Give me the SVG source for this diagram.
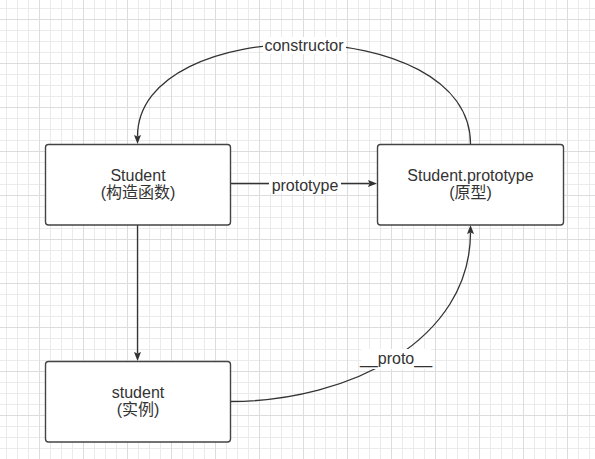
<svg xmlns="http://www.w3.org/2000/svg" width="595" height="459" viewBox="0 0 595 459">
<style>
.node rect{fill:#ffffff;stroke:#444444;stroke-width:1.4}
.t{font-family:"Liberation Sans","Noto Sans CJK SC",sans-serif;font-size:16px;fill:#333333;text-anchor:middle}
.edge{fill:none;stroke:#333333;stroke-width:1.3}
.lbg{fill:#ffffff}
.mn{stroke:#ebebeb;stroke-width:1}
.mj{stroke:#dcdcdc;stroke-width:1}
</style>
<defs>
<pattern id="grid" patternUnits="userSpaceOnUse" x="6" y="8" width="44" height="44">
<path class="mn" d="M0.5,0V44M11.5,0V44M22.5,0V44M0,0.5H44M0,22.5H44M0,33.5H44"/>
<path class="mj" d="M33.5,0V44M0,11.5H44"/>
</pattern>
<marker id="arr" markerUnits="userSpaceOnUse" markerWidth="10" markerHeight="8" refX="1.5" refY="3.5" orient="auto">
<path d="M0,0 L9,3.5 L0,7 L1.5,3.5 z" fill="#333333"/>
</marker>
</defs>
<rect width="595" height="459" fill="#ffffff"/>
<rect width="595" height="459" fill="url(#grid)"/>

<g id="connectors">
<path class="edge" d="M470.5,144 C470.5,12 137.5,12 137.5,136.5" marker-end="url(#arr)"/>
<path class="edge" d="M230.5,183.5 L369.5,183.5" marker-end="url(#arr)"/>
<path class="edge" d="M137.5,225 L137.5,353.5" marker-end="url(#arr)"/>
<path class="edge" d="M230.5,401.5 C350,401.5 470.5,340 470.5,232.5" marker-end="url(#arr)"/>
<rect class="lbg" x="263" y="37" width="83" height="17"/>
<text class="t" x="304" y="51">constructor</text>
<rect class="lbg" x="269" y="176" width="72" height="17"/>
<text class="t" x="305" y="191">prototype</text>
<rect class="lbg" x="361" y="349" width="70" height="20"/>
<text class="t" x="396" y="364">__proto__</text>
</g>

<g id="Student" class="node">
<rect x="45.5" y="144.5" width="185" height="80.5" rx="3"/>
<text class="t" x="138" y="181">Student</text>
<text class="t" x="138" y="198">(构造函数)</text>
</g>
<g id="StudentPrototype" class="node">
<rect x="377.5" y="144.5" width="186" height="80.5" rx="3"/>
<text class="t" x="470.5" y="181">Student.prototype</text>
<text class="t" x="470.5" y="198">(原型)</text>
</g>
<g id="student" class="node">
<rect x="45.5" y="361.5" width="185" height="80.5" rx="3"/>
<text class="t" x="138" y="398">student</text>
<text class="t" x="138" y="415">(实例)</text>
</g>
</svg>
